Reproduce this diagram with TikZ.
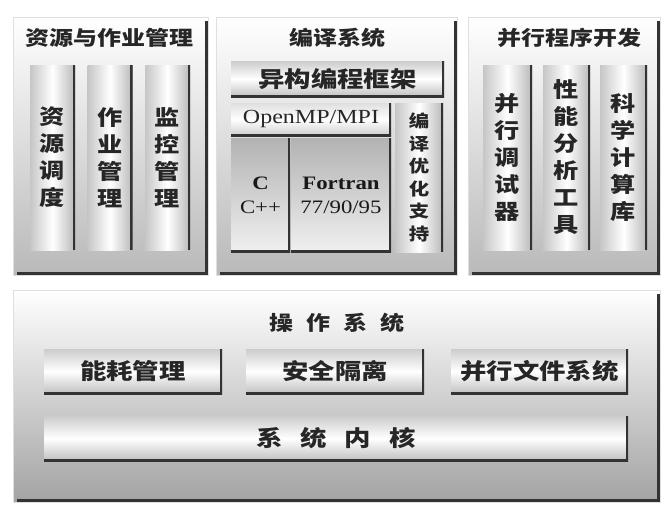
\documentclass[tikz,border=0pt]{standalone}
\usepackage{fontspec}
\newfontfamily\cjk[FakeStretch=1.2]{Noto Sans CJK SC}
\newfontfamily\lat[FakeStretch=1.2]{Liberation Serif}
\begin{document}
\begin{tikzpicture}[x=1pt,y=-1pt,
  panel/.style={inner sep=0pt, draw=gray!25, line width=0.6pt, top color=white, bottom color=gray!55,
    path picture={\draw[black!80,line width=7pt] ([yshift=-4pt]path picture bounding box.north east) -- (path picture bounding box.south east) -- ([xshift=4pt]path picture bounding box.south west);}},
  vcol/.style={inner sep=0pt, left color=gray!45, right color=gray!55, middle color=white,
    path picture={\draw[black!80,line width=5pt] (path picture bounding box.north east) -- (path picture bounding box.south east);},
    align=center, text=black!85, font=\cjk\bfseries\fontsize{21}{27}\selectfont},
  hbar/.style={inner sep=0pt, top color=gray!40, bottom color=gray!50, middle color=white,
    path picture={\draw[black!80,line width=5pt] (path picture bounding box.north east) -- (path picture bounding box.south east) -- (path picture bounding box.south west);},
    text=black!85, font=\cjk\bfseries\fontsize{22}{26}\selectfont},
  lbox/.style={inner sep=0pt, top color=gray!60, bottom color=gray!12,
    path picture={\draw[black!80,line width=4pt] (path picture bounding box.north east) -- (path picture bounding box.south east) -- (path picture bounding box.south west);},
    align=center, text=black!90, font=\lat\fontsize{19}{24}\selectfont},
  ttl/.style={inner sep=0pt, text=black!85, font=\cjk\bfseries\fontsize{20}{24}\selectfont}
]
\useasboundingbox (0,0) rectangle (665,507);
\fill[white] (0,0) rectangle (665,507);

% panels
\node[panel, minimum width=195pt, minimum height=258pt] (p1) at (110.5,146) {};
\node[panel, minimum width=241pt, minimum height=258pt] (p2) at (336.5,146) {};
\node[panel, minimum width=192pt, minimum height=258pt] (p3) at (564,146) {};
\node[panel, bottom color=gray!72, minimum width=647pt, minimum height=212pt] (p4) at (336.5,396) {};

% titles
\node[ttl] (t1) at (110,38) {资源与作业管理};
\node[ttl] (t2) at (337,38) {编译系统};
\node[ttl] (t3) at (569,38) {并行程序开发};
\node[ttl] (t4) at (337,323) {操\hspace{13pt}作\hspace{13pt}系\hspace{13pt}统};

% left panel columns
\node[vcol, minimum width=45pt, minimum height=185pt] (c1) at (52.5,157.5) {资\\源\\调\\度};
\node[vcol, minimum width=45pt, minimum height=185pt] (c2) at (110,157.5) {作\\业\\管\\理};
\node[vcol, minimum width=45pt, minimum height=185pt] (c3) at (167.5,157.5) {监\\控\\管\\理};

% right panel columns
\node[vcol, minimum width=49pt, minimum height=185pt] (r1) at (507.5,157.5) {并\\行\\调\\试\\器};
\node[vcol, minimum width=47pt, minimum height=185pt] (r2) at (566.5,157.5) {性\\能\\分\\析\\工\\具};
\node[vcol, minimum width=47pt, minimum height=185pt] (r3) at (623.5,157.5) {科\\学\\计\\算\\库};

% compile system
\node[hbar, minimum width=213pt, minimum height=36pt] (fw) at (337.5,79) {异构编程框架};
\node[hbar, top color=gray!25, bottom color=gray!40, middle color=white, font=\lat\fontsize{20}{24}\selectfont, minimum width=160pt, minimum height=33pt] (mp) at (311,119.5) {OpenMP/MPI};
\node[lbox, minimum width=59pt, minimum height=114pt] (cc) at (260.5,195) {\bfseries C\\C++};
\node[lbox, minimum width=100pt, minimum height=114pt] (ft) at (341,195) {\bfseries Fortran\\77/90/95};
\node[vcol, font=\cjk\bfseries\fontsize{17}{22.5}\selectfont, minimum width=48pt, minimum height=149pt] (op) at (419,177.5) {编\\译\\优\\化\\支\\持};

% operating system
\node[hbar, minimum width=178pt, minimum height=45pt] (b1) at (133,371.5) {能耗管理};
\node[hbar, minimum width=178pt, minimum height=45pt] (b2) at (335,371.5) {安全隔离};
\node[hbar, minimum width=177pt, minimum height=45pt] (b3) at (539.5,371.5) {并行文件系统};
\node[hbar, minimum width=584pt, minimum height=45pt] (kn) at (336,438.5) {系\hspace{18pt}统\hspace{18pt}内\hspace{18pt}核};
\end{tikzpicture}
\end{document}
